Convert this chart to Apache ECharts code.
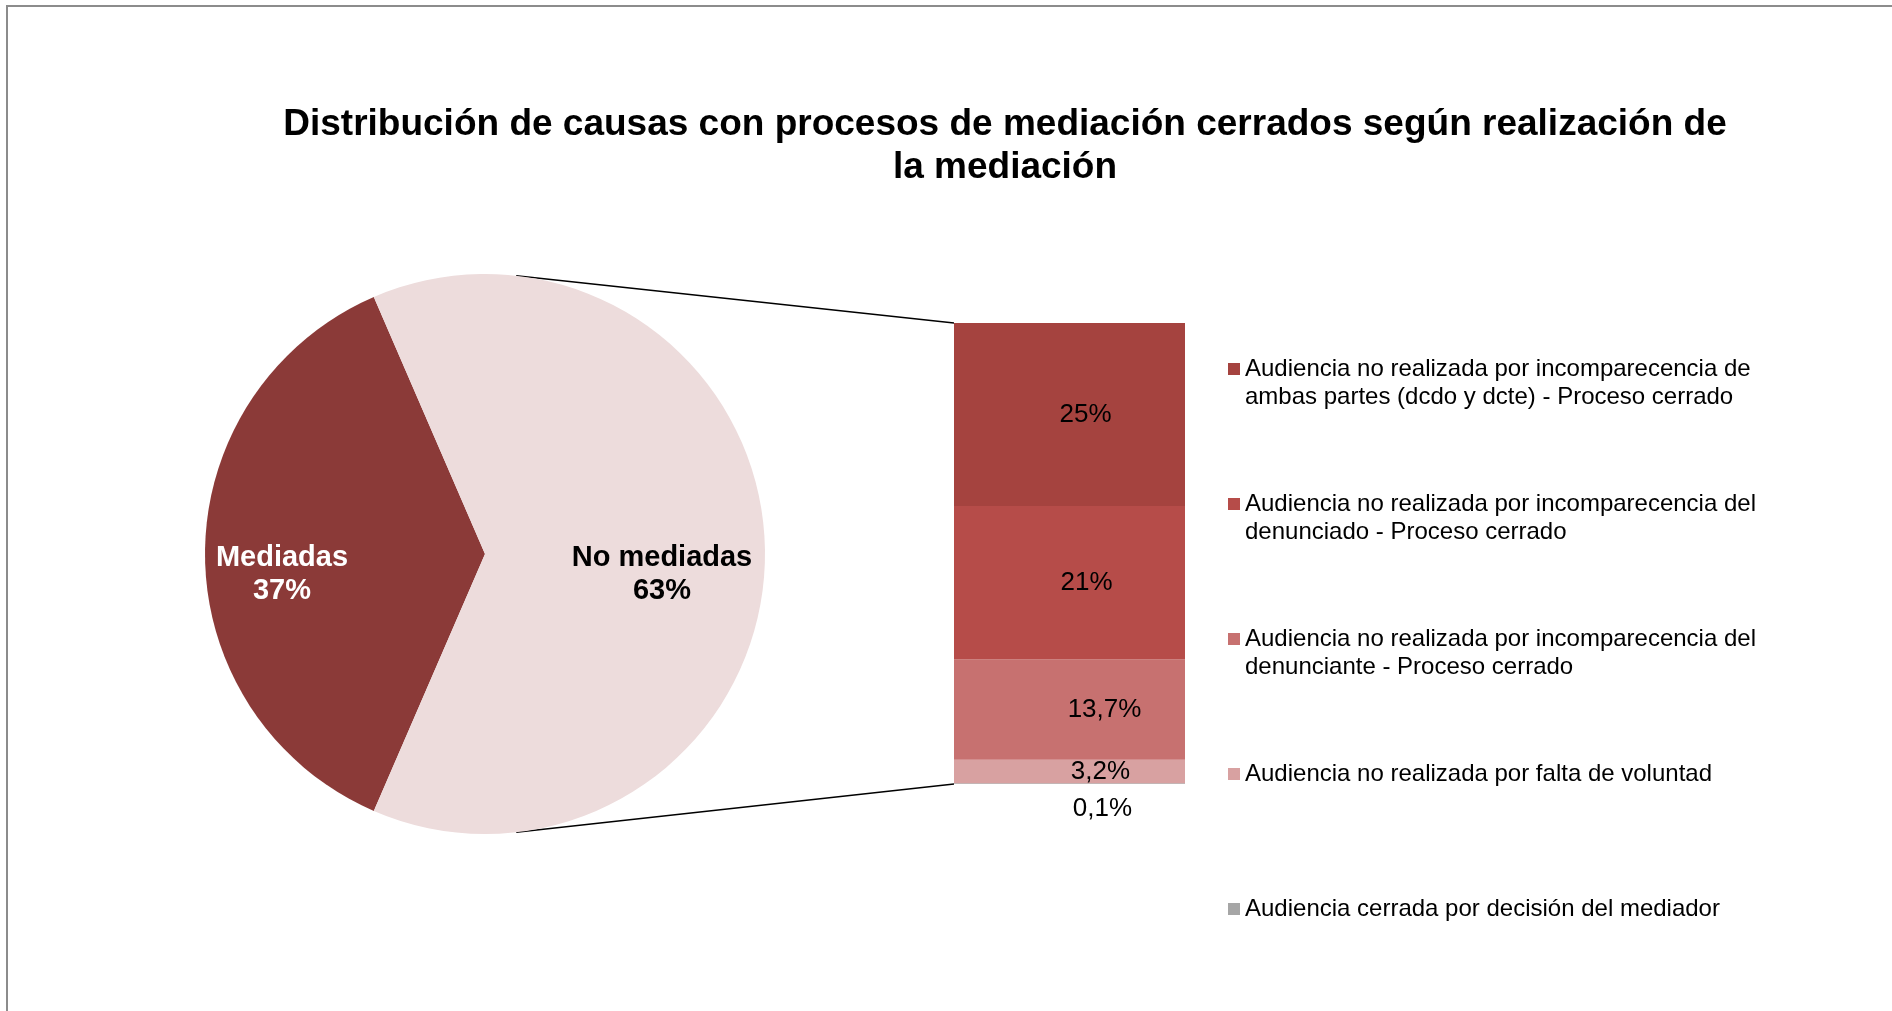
<!DOCTYPE html>
<html>
<head>
<meta charset="utf-8">
<script src="https://cdn.jsdelivr.net/npm/echarts@6/dist/echarts.min.js"></script>
<style>
    html, body { margin: 0; padding: 0; background: #fff; }
    #chart { width: 1892px; height: 1011px; }
</style>
</head>
<body>
<div id="chart"></div>
<script>
const titleText = "Distribución de causas con procesos de mediación cerrados según realización de\nla mediación";

// pie (left)
const pieNames = ["Mediadas", "No mediadas"];
const pieValues = [37, 63];

// stacked bar (right), top to bottom like the legend
const barNames = [
    "Audiencia no realizada por incomparecencia de\nambas partes (dcdo y dcte) - Proceso cerrado",
    "Audiencia no realizada por incomparecencia del\ndenunciado - Proceso cerrado",
    "Audiencia no realizada por incomparecencia del\ndenunciante - Proceso cerrado",
    "Audiencia no realizada por falta de voluntad",
    "Audiencia cerrada por decisión del mediador",
];
const barValues = [25, 21, 13.7, 3.2, 0.1];

const pieColors = ["#8B3A38", "#EDDCDC"];
const pieLabelColors = ["#fff", "#000"];
const pieLabelShift = [-60, 34];
const barColors = ["#A5433F", "#B64C49", "#C77170", "#D8A1A1", "#A6A6A6"];
const barLabelShift = [16, 17, 35, 31, 33];

// layout
const PIE_CX = 485, PIE_CY = 554, PIE_R = 280;
const GRID_LEFT = 954, GRID_TOP = 323, GRID_W = 231, GRID_H = 461;

// legend marker: 12x12 square at the top of a 12x40 box, so it sits on the first text line
const LEGEND_ICON = "path://M0,0L12,0L12,12L0,12Z M0,40L0.01,40Z";

const pieTotal = pieValues.reduce((a, b) => a + b, 0);
const barTotal = barValues.reduce((a, b) => a + b, 0);

function fmtPct(v) {
    return String(v).replace(".", ",") + "%";
}

/* build the bar series, bottom segment first so the stack reads like the picture */
function buildBarSeries() {
    const series = [];
    for (let i = barValues.length - 1; i >= 0; i--) {
        const last = i === barValues.length - 1;
        series.push({
            name: barNames[i],
            type: "bar",
            stack: "total",
            barWidth: "100%",
            silent: true,
            itemStyle: { color: barColors[i] },
            label: {
                show: true,
                position: last ? "bottom" : "inside",
                distance: 12,
                offset: [barLabelShift[i], 0],
                formatter: (p) => fmtPct(p.value),
                color: "#000",
                fontSize: 26,
                fontFamily: "Liberation Sans, Arial, sans-serif",
            },
            data: [barValues[i]],
        });
    }
    return series;
}

/* connector lines from the pie to the bar corners, plus the outer frame */
function buildGraphic() {
    const ang = (83.6 * Math.PI) / 180;
    const px = PIE_CX + PIE_R * Math.cos(ang);
    const pyTop = PIE_CY - PIE_R * Math.sin(ang);
    const pyBot = PIE_CY + PIE_R * Math.sin(ang);
    return [
        {
            type: "rect",
            silent: true,
            shape: { x: 7, y: 6, width: 2000, height: 2000 },
            style: { fill: "none", stroke: "#8C8C8C", lineWidth: 2 },
        },
        {
            type: "line",
            silent: true,
            shape: { x1: px, y1: pyTop, x2: GRID_LEFT, y2: GRID_TOP },
            style: { stroke: "#000", lineWidth: 1.3 },
        },
        {
            type: "line",
            silent: true,
            shape: { x1: px, y1: pyBot, x2: GRID_LEFT, y2: GRID_TOP + GRID_H },
            style: { stroke: "#000", lineWidth: 1.3 },
        },
    ];
}

let myChart = echarts.init(document.querySelector("#chart"));

const option = {
    animation: false,
    backgroundColor: "#fff",
    title: {
        text: titleText,
        left: 1000,
        top: 98,
        textAlign: "center",
        textStyle: {
            fontFamily: "Liberation Sans, Arial, sans-serif",
            fontWeight: "bold",
            fontSize: 37,
            lineHeight: 43,
            color: "#000",
        },
    },
    legend: {
        orient: "vertical",
        left: 1228,
        top: 355,
        padding: 0,
        itemWidth: 12,
        itemHeight: 40,
        itemGap: 79,
        icon: LEGEND_ICON,
        selectedMode: false,
        data: barNames,
        formatter: (name) => (name.indexOf("\n") < 0 ? name + "\n " : name),
        textStyle: {
            fontFamily: "Liberation Sans, Arial, sans-serif",
            fontSize: 24,
            lineHeight: 28,
            color: "#000",
        },
    },
    grid: {
        left: GRID_LEFT,
        top: GRID_TOP,
        width: GRID_W,
        height: GRID_H,
    },
    xAxis: {
        type: "category",
        data: ["No mediadas"],
        show: false,
    },
    yAxis: {
        type: "value",
        min: 0,
        max: barTotal,
        show: false,
    },
    graphic: buildGraphic(),
    series: [
        {
            name: "Mediación",
            type: "pie",
            center: [PIE_CX, PIE_CY],
            radius: PIE_R,
            startAngle: 180 + (pieValues[0] / pieTotal) * 180,
            clockwise: true,
            silent: true,
            label: {
                show: true,
                position: "inside",
                formatter: "{b}\n{c}%",
                fontFamily: "Liberation Sans, Arial, sans-serif",
                fontWeight: "bold",
                fontSize: 29,
                lineHeight: 33,
            },
            labelLayout: (p) => ({
                dx: pieLabelShift[p.dataIndex],
                dy: 20,
            }),
            data: pieNames.map((n, i) => ({
                name: n,
                value: pieValues[i],
                itemStyle: { color: pieColors[i] },
                label: { color: pieLabelColors[i] },
            })),
        },
    ].concat(buildBarSeries()),
};
myChart.setOption(option);

window.addEventListener("resize", function () {
    myChart.resize();
});
</script>
</body>
</html>
